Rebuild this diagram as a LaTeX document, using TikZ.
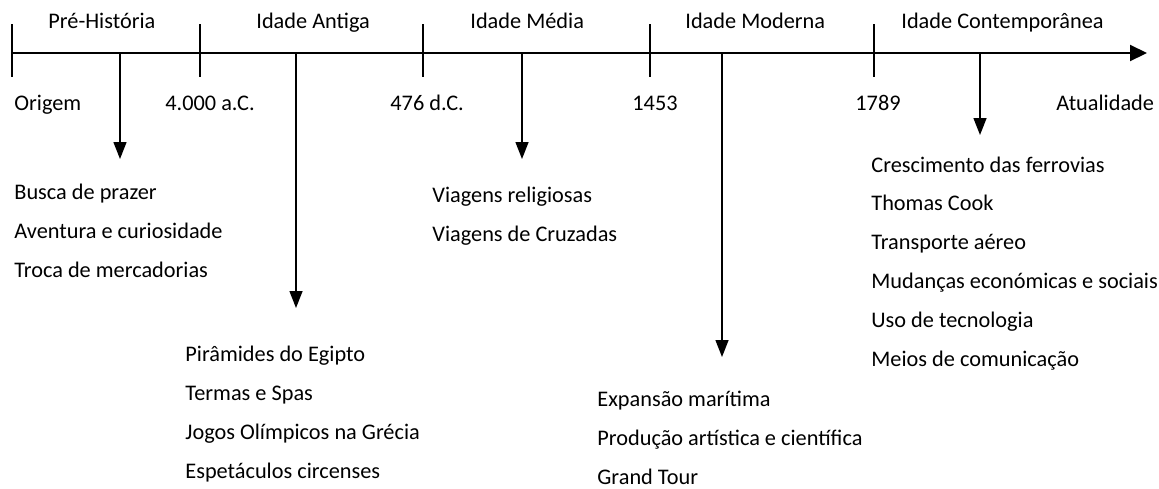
\documentclass[tikz,border=0pt]{standalone}
\usepackage{fontspec}
\setmainfont{Carlito}
\usepackage{tikz}
\usetikzlibrary{positioning,arrows.meta}

\begin{document}
\begin{tikzpicture}[
      x=0.5pt, y=-0.5pt,
      every node/.style={font=\fontsize{11.15}{19.4}\selectfont, inner sep=0pt},
      era/.style={anchor=base west},
      date/.style={anchor=base west},
      items/.style={anchor=base west, align=left},
      tick/.style={line width=1.2pt},
      axis/.style={line width=1pt, -{Triangle[length=8.5pt,width=8pt]}},
      arrow/.style={line width=0.7pt, -{Triangle[length=8.5pt,width=6.5pt]}}
    ]
    \useasboundingbox (0,0) rectangle (1159,488);

    % time axis
    \coordinate (origin) at (12,53);
    \coordinate (now) at (1147,53);
    \draw[axis] (origin) -- (now);
    \draw[tick] (12,24) -- (12,77);
    \draw[tick] (200,24) -- (200,77);
    \draw[tick] (423,24) -- (423,77);
    \draw[tick] (650,24) -- (650,77);
    \draw[tick] (874,24) -- (874,77);

    % eras
    \node[era] (pre) at (48,28) {Pré-História};
    \node[era] (antiga) at (256,28) {Idade Antiga};
    \node[era] (media) at (470,28) {Idade Média};
    \node[era] (moderna) at (685,28) {Idade Moderna};
    \node[era] (contemp) at (901,28) {Idade Contemporânea};

    % dates
    \node[date] (dOrigem) at (14,110) {Origem};
    \node[date] (dAC) at (165,110) {4.000 a.C.};
    \node[date] (dDC) at (390,110) {476 d.C.};
    \node[date] (d1453) at (632,110) {1453};
    \node[date] (d1789) at (855,110) {1789};
    \node[date] (dHoje) at (1056,110) {Atualidade};

    % lists (placed at the baseline of their last line)
    \node[items] (preList) at (14,277) {Busca de prazer\\Aventura e curiosidade\\Troca de mercadorias};
    \node[items] (antigaList) at (185,478) {Pirâmides do Egipto\\Termas e Spas\\Jogos Olímpicos na Grécia\\Espetáculos circenses};
    \node[items] (mediaList) at (432,241) {Viagens religiosas\\Viagens de Cruzadas};
    \node[items] (modernaList) at (597,484) {Expansão marítima\\Produção artística e científica\\Grand Tour};
    \node[items] (contempList) at (871,366) {Crescimento das ferrovias\\Thomas Cook\\Transporte aéreo\\Mudanças económicas e sociais\\Uso de tecnologia\\Meios de comunicação};

    % pointers
    \coordinate (preOn) at (120,53);
    \coordinate (preTip) at (120,159);
    \coordinate (antigaOn) at (296,53);
    \coordinate (antigaTip) at (296,308);
    \coordinate (mediaOn) at (522,53);
    \coordinate (mediaTip) at (522,159);
    \coordinate (modernaOn) at (722,53);
    \coordinate (modernaTip) at (722,357);
    \coordinate (contempOn) at (980,53);
    \coordinate (contempTip) at (980,135);
    \draw[arrow] (preOn) -- (preTip);
    \draw[arrow] (antigaOn) -- (antigaTip);
    \draw[arrow] (mediaOn) -- (mediaTip);
    \draw[arrow] (modernaOn) -- (modernaTip);
    \draw[arrow] (contempOn) -- (contempTip);
  \end{tikzpicture}
\end{document}
